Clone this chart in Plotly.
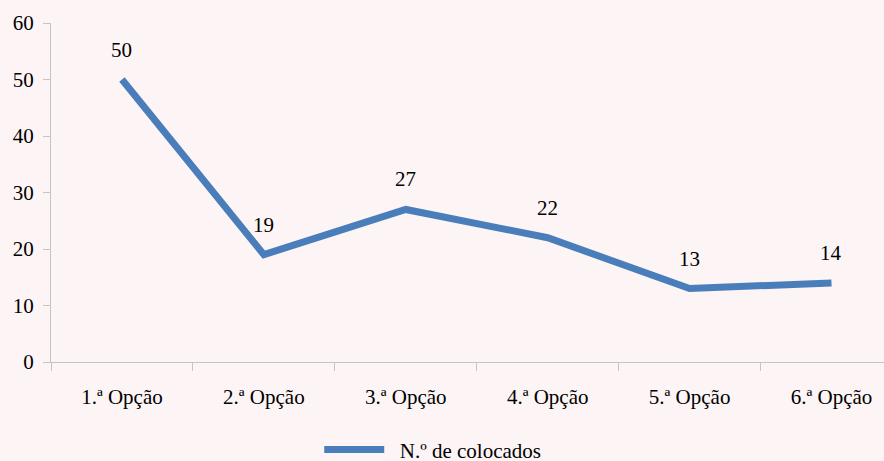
import plotly.graph_objects as go

categories = ["1.ª Opção", "2.ª Opção", "3.ª Opção", "4.ª Opção", "5.ª Opção", "6.ª Opção"]
values = [50, 19, 27, 22, 13, 14]
series_name = "N.º de colocados"
y_ticks = [0, 10, 20, 30, 40, 50, 60]

FONT = "Liberation Serif"
FS = 21
LINE_COLOR = "#4a7ebb"
BG = "#fdf4f5"
AXIS_COLOR = "#c8c4c4"

fig = go.Figure()
fig.add_trace(go.Scatter(
    x=categories, y=values, mode="lines", name="\u2002" + series_name,
    line=dict(color=LINE_COLOR, width=7),
))

for c, v in zip(categories, values):
    fig.add_annotation(x=c, y=v, text=str(v), showarrow=False, yshift=30,
                       font=dict(family=FONT, size=FS, color="#000000"))

fig.update_layout(
    width=884, height=461,
    margin=dict(l=51, r=0, t=23, b=99),
    paper_bgcolor=BG, plot_bgcolor=BG,
    font=dict(family=FONT, size=FS, color="#000000"),
    showlegend=True,
    legend=dict(orientation="h", x=0.322, xanchor="left", yref="container", y=0.024, yanchor="middle",
                itemwidth=60, font=dict(family=FONT, size=FS), bgcolor="rgba(0,0,0,0)"),
)
fig.update_xaxes(
    type="category", range=[-0.5, 5.37], showgrid=False, zeroline=False,
    showline=True, linecolor=AXIS_COLOR, linewidth=1,
    ticks="outside", tickson="boundaries", ticklen=8, tickcolor=AXIS_COLOR,
    ticklabelstandoff=16, tickfont=dict(family=FONT, size=FS),
)
fig.update_yaxes(
    range=[0, 60], tickvals=y_ticks, showgrid=False, zeroline=False,
    showline=True, linecolor=AXIS_COLOR, linewidth=1,
    ticks="outside", ticklen=7, tickcolor=AXIS_COLOR, ticklabelstandoff=5,
    tickfont=dict(family=FONT, size=FS),
)

fig.write_html("out.html", config={"displayModeBar": False},
               post_script="document.body.style.margin='0';document.body.style.overflow='hidden';")
